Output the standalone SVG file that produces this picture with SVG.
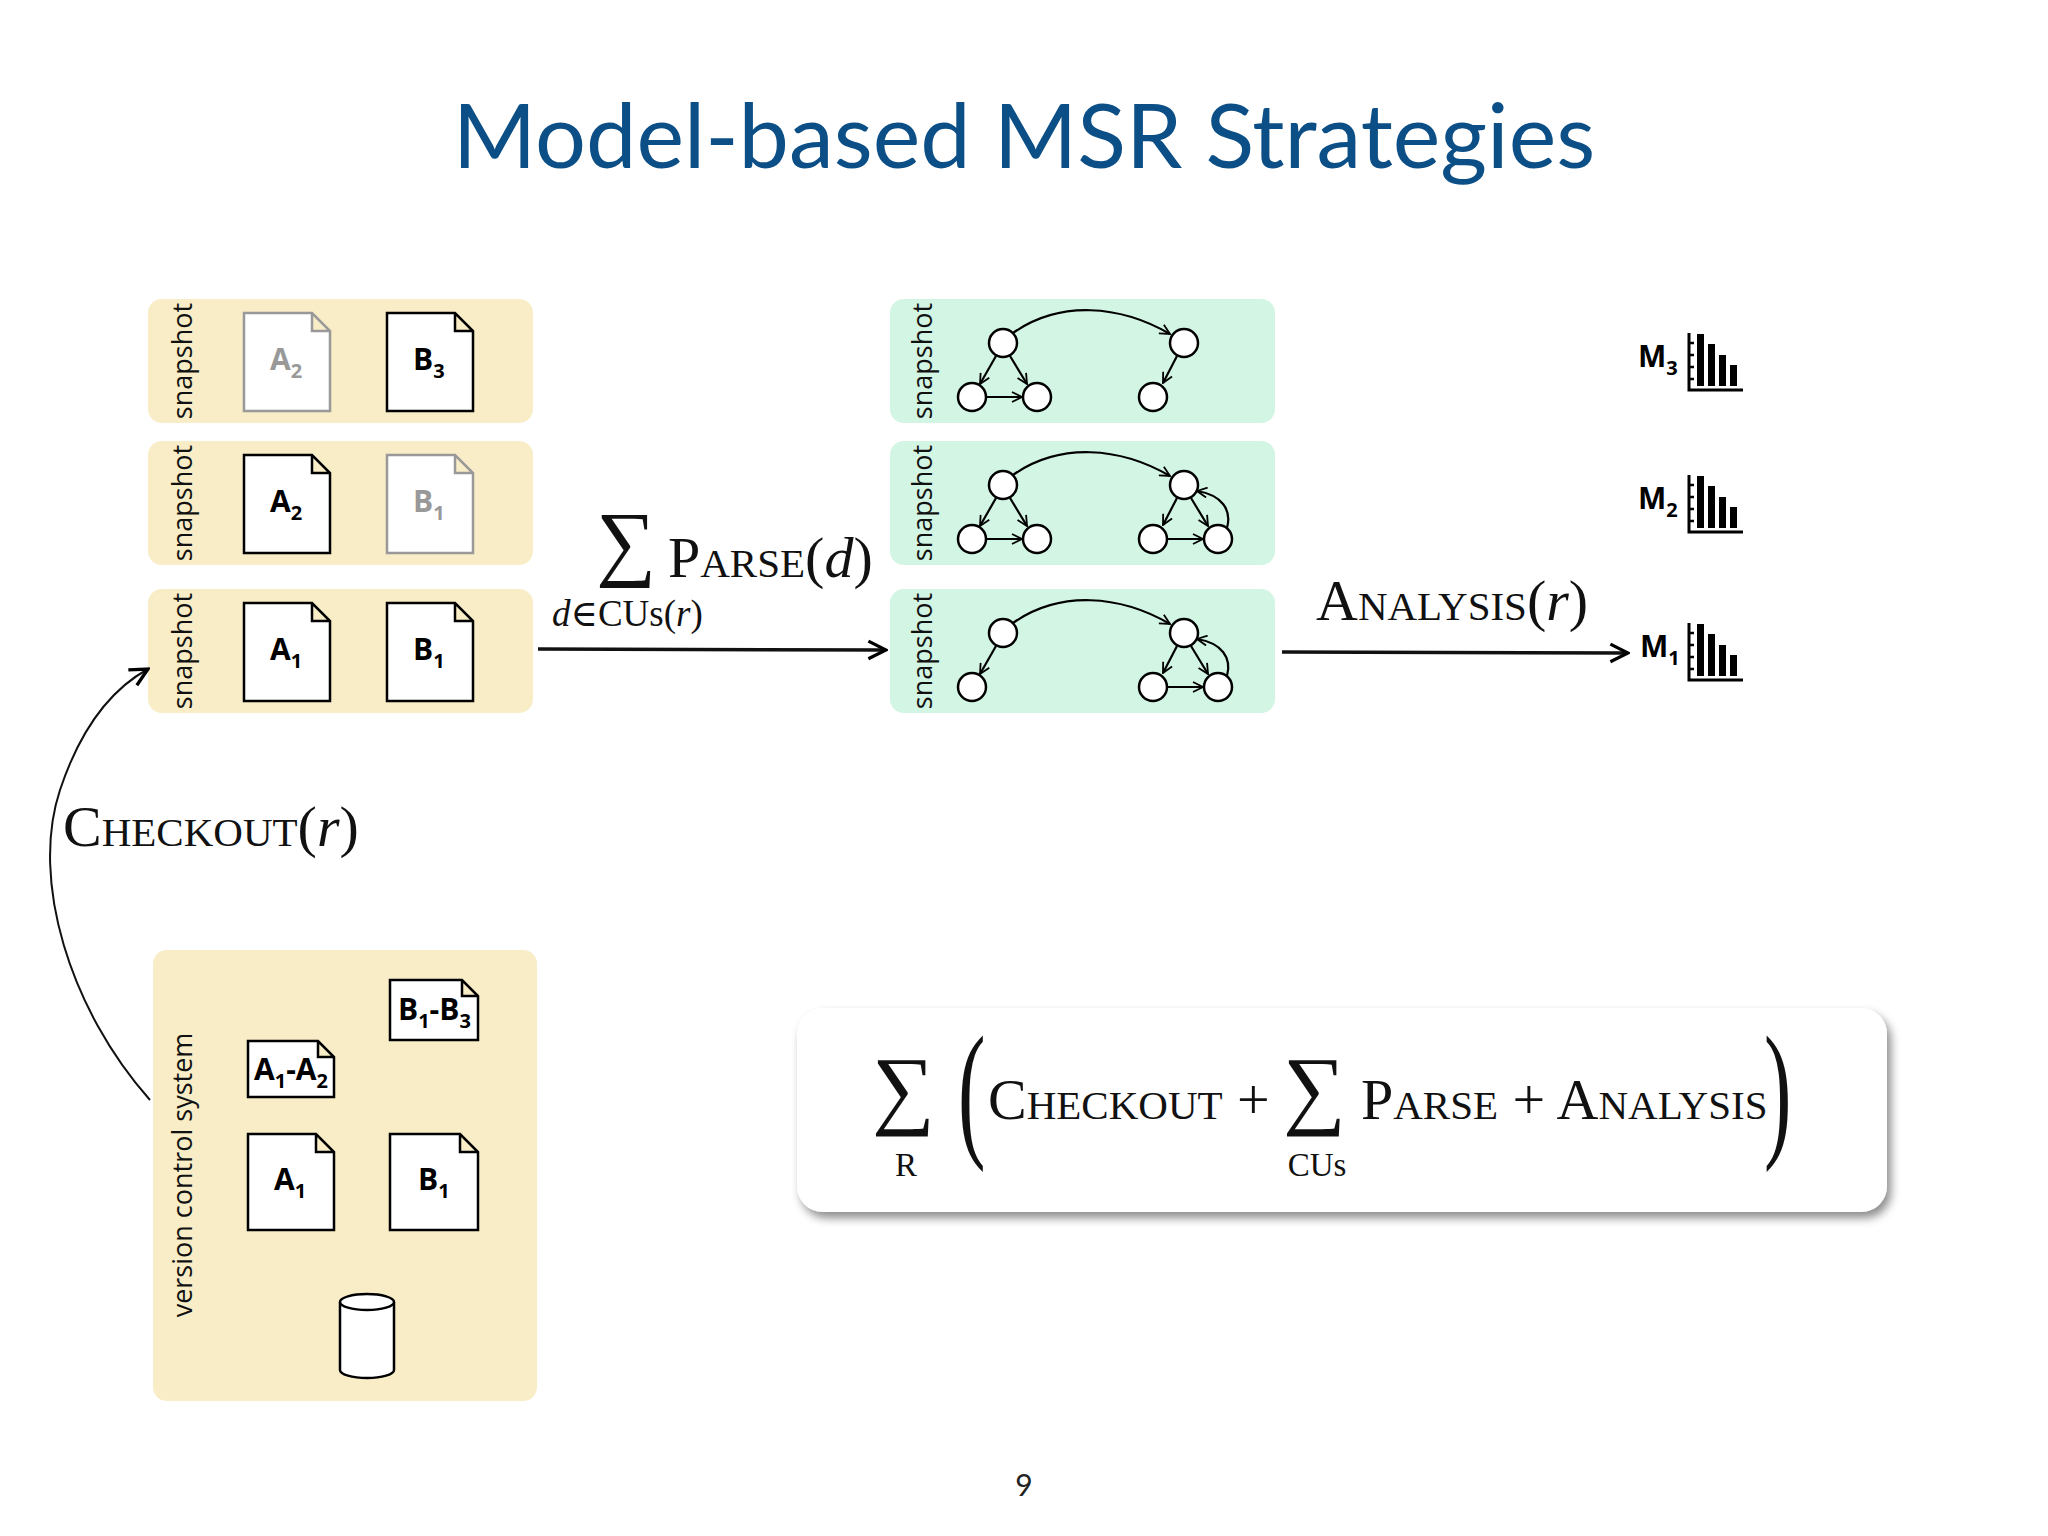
<svg xmlns="http://www.w3.org/2000/svg" width="2048" height="1536" viewBox="0 0 2048 1536">
<style>
.ybox{fill:#f8edc6}
.gbox{fill:#d3f5e4}
.lbl{font-family:"Open Sans","Liberation Sans",sans-serif;font-size:27px;fill:#111}
.doc{fill:#fff;stroke:#000;stroke-width:2.5}
.docg{fill:#fff;stroke:#999;stroke-width:2.5}
.dt{font-family:"Open Sans","Liberation Sans",sans-serif;font-weight:bold;font-size:30px;fill:#000}
.dtg{font-family:"Open Sans","Liberation Sans",sans-serif;font-weight:bold;font-size:30px;fill:#999}
.sub{font-size:20px}
.nd{fill:#fff;stroke:#000;stroke-width:2.5}
.ed{fill:none;stroke:#000;stroke-width:2.2;marker-end:url(#ah)}
.math{font-family:"Liberation Serif","DejaVu Serif",serif;fill:#111}
.sc{font-variant:small-caps}
.it{font-style:italic;font-variant:normal}
.bar{fill:#000}
</style>
<defs>
<marker id="ah" viewBox="0 0 12 12" refX="11" refY="6" markerWidth="12" markerHeight="12" markerUnits="userSpaceOnUse" orient="auto"><path d="M1,1 L11,6 L1,11" fill="none" stroke="#000" stroke-width="1.8"/></marker>
<marker id="bh" viewBox="0 0 20 20" refX="18" refY="10" markerWidth="22" markerHeight="22" markerUnits="userSpaceOnUse" orient="auto"><path d="M2,2 L18,10 L2,18" fill="none" stroke="#000" stroke-width="3"/></marker>
<filter id="sh" x="-5%" y="-10%" width="115%" height="130%"><feDropShadow dx="4" dy="6" stdDeviation="5" flood-color="#000" flood-opacity="0.45"/></filter>
</defs>
<rect width="2048" height="1536" fill="#fff"/>
<text x="1024" y="168" text-anchor="middle" font-family="Lato,'Noto Sans',sans-serif" font-size="90" fill="#0c4f86">Model-based MSR Strategies</text>

<!-- left snapshots -->
<g id="snap3">
<rect class="ybox" x="148" y="299" width="385" height="124" rx="14"/>
<text class="lbl" transform="translate(192,361) rotate(-90)" text-anchor="middle">snapshot</text>
<path class="docg" d="M244,313 H312 L330,331 V411 H244 Z M312,313 V331 H330"/>
<text class="dtg" x="270" y="370">A<tspan class="sub" dy="8">2</tspan></text>
<path class="doc" d="M387,313 H455 L473,331 V411 H387 Z M455,313 V331 H473"/>
<text class="dt" x="413" y="370">B<tspan class="sub" dy="8">3</tspan></text>
</g>
<g id="snap2">
<rect class="ybox" x="148" y="441" width="385" height="124" rx="14"/>
<text class="lbl" transform="translate(192,503) rotate(-90)" text-anchor="middle">snapshot</text>
<path class="doc" d="M244,455 H312 L330,473 V553 H244 Z M312,455 V473 H330"/>
<text class="dt" x="270" y="512">A<tspan class="sub" dy="8">2</tspan></text>
<path class="docg" d="M387,455 H455 L473,473 V553 H387 Z M455,455 V473 H473"/>
<text class="dtg" x="413" y="512">B<tspan class="sub" dy="8">1</tspan></text>
</g>
<g id="snap1">
<rect class="ybox" x="148" y="589" width="385" height="124" rx="14"/>
<text class="lbl" transform="translate(192,651) rotate(-90)" text-anchor="middle">snapshot</text>
<path class="doc" d="M244,603 H312 L330,621 V701 H244 Z M312,603 V621 H330"/>
<text class="dt" x="270" y="660">A<tspan class="sub" dy="8">1</tspan></text>
<path class="doc" d="M387,603 H455 L473,621 V701 H387 Z M455,603 V621 H473"/>
<text class="dt" x="413" y="660">B<tspan class="sub" dy="8">1</tspan></text>
</g>

<!-- VCS -->
<g id="vcs">
<rect class="ybox" x="153" y="950" width="384" height="451" rx="14"/>
<text class="lbl" transform="translate(192,1175) rotate(-90)" text-anchor="middle">version control system</text>
<path class="doc" d="M390,980 H462 L478,996 V1040 H390 Z M462,980 V996 H478"/>
<text class="dt" x="398" y="1020">B<tspan class="sub" dy="8">1</tspan><tspan dy="-8">-B</tspan><tspan class="sub" dy="8">3</tspan></text>
<path class="doc" d="M248,1041 H318 L334,1057 V1097 H248 Z M318,1041 V1057 H334"/>
<text class="dt" x="254" y="1080">A<tspan class="sub" dy="8">1</tspan><tspan dy="-8">-A</tspan><tspan class="sub" dy="8">2</tspan></text>
<path class="doc" d="M248,1134 H316 L334,1152 V1230 H248 Z M316,1134 V1152 H334"/>
<text class="dt" x="274" y="1190">A<tspan class="sub" dy="8">1</tspan></text>
<path class="doc" d="M390,1134 H460 L478,1152 V1230 H390 Z M460,1134 V1152 H478"/>
<text class="dt" x="418" y="1190">B<tspan class="sub" dy="8">1</tspan></text>
<path d="M340,1302 V1370 A27,8 0 0 0 394,1370 V1302" fill="#fff" stroke="#000" stroke-width="2.5"/>
<ellipse cx="367" cy="1302" rx="27" ry="8" fill="#fff" stroke="#000" stroke-width="2.5"/>
</g>

<!-- graph snapshots -->
<g id="gsnap3">
<rect class="gbox" x="890" y="299" width="385" height="124" rx="14"/>
<text class="lbl" transform="translate(932,361) rotate(-90)" text-anchor="middle">snapshot</text>
<path class="ed" d="M1013,333 C1060,300 1120,305 1170,334"/>
<path class="ed" d="M996,356 L980,384"/>
<path class="ed" d="M1010,356 L1027,384"/>
<path class="ed" d="M986,397 L1022,397"/>
<path class="ed" d="M1177,356 L1163,383"/>
<circle class="nd" cx="1003" cy="343" r="14"/><circle class="nd" cx="972" cy="397" r="14"/><circle class="nd" cx="1037" cy="397" r="14"/>
<circle class="nd" cx="1184" cy="343" r="14"/><circle class="nd" cx="1153" cy="397" r="14"/>
</g>
<g id="gsnap2">
<rect class="gbox" x="890" y="441" width="385" height="124" rx="14"/>
<text class="lbl" transform="translate(932,503) rotate(-90)" text-anchor="middle">snapshot</text>
<path class="ed" d="M1013,475 C1060,442 1120,447 1170,476"/>
<path class="ed" d="M996,498 L980,526"/>
<path class="ed" d="M1010,498 L1027,526"/>
<path class="ed" d="M986,539 L1022,539"/>
<path class="ed" d="M1177,498 L1163,525"/>
<path class="ed" d="M1191,498 L1208,526"/>
<path class="ed" d="M1167,539 L1203,539"/>
<path class="ed" d="M1227,528 C1232,510 1222,495 1197,491"/>
<circle class="nd" cx="1003" cy="485" r="14"/><circle class="nd" cx="972" cy="539" r="14"/><circle class="nd" cx="1037" cy="539" r="14"/>
<circle class="nd" cx="1184" cy="485" r="14"/><circle class="nd" cx="1153" cy="539" r="14"/><circle class="nd" cx="1218" cy="539" r="14"/>
</g>
<g id="gsnap1">
<rect class="gbox" x="890" y="589" width="385" height="124" rx="14"/>
<text class="lbl" transform="translate(932,651) rotate(-90)" text-anchor="middle">snapshot</text>
<path class="ed" d="M1013,623 C1060,590 1120,595 1170,624"/>
<path class="ed" d="M996,646 L980,674"/>
<path class="ed" d="M1177,646 L1163,673"/>
<path class="ed" d="M1191,646 L1208,674"/>
<path class="ed" d="M1167,687 L1203,687"/>
<path class="ed" d="M1227,676 C1232,658 1222,643 1197,639"/>
<circle class="nd" cx="1003" cy="633" r="14"/><circle class="nd" cx="972" cy="687" r="14"/>
<circle class="nd" cx="1184" cy="633" r="14"/><circle class="nd" cx="1153" cy="687" r="14"/><circle class="nd" cx="1218" cy="687" r="14"/>
</g>

<!-- metrics -->
<g id="m3">
<text class="dt" x="1638" y="367">M<tspan class="sub" dy="8">3</tspan></text>
<path d="M1689,333 V390 H1743" fill="none" stroke="#000" stroke-width="3"/>
<path d="M1689,343 h5 M1689,355 h5 M1689,367 h5 M1689,379 h5" stroke="#000" stroke-width="2.5"/>
<rect class="bar" x="1697" y="334" width="7" height="52"/><rect class="bar" x="1708" y="344" width="7" height="42"/><rect class="bar" x="1719" y="355" width="7" height="31"/><rect class="bar" x="1730" y="365" width="7" height="21"/>
</g>
<g id="m2">
<text class="dt" x="1638" y="509">M<tspan class="sub" dy="8">2</tspan></text>
<path d="M1689,475 V532 H1743" fill="none" stroke="#000" stroke-width="3"/>
<path d="M1689,485 h5 M1689,497 h5 M1689,509 h5 M1689,521 h5" stroke="#000" stroke-width="2.5"/>
<rect class="bar" x="1697" y="476" width="7" height="52"/><rect class="bar" x="1708" y="486" width="7" height="42"/><rect class="bar" x="1719" y="497" width="7" height="31"/><rect class="bar" x="1730" y="507" width="7" height="21"/>
</g>
<g id="m1">
<text class="dt" x="1640" y="657">M<tspan class="sub" dy="8">1</tspan></text>
<path d="M1689,623 V680 H1743" fill="none" stroke="#000" stroke-width="3"/>
<path d="M1689,633 h5 M1689,645 h5 M1689,657 h5 M1689,669 h5" stroke="#000" stroke-width="2.5"/>
<rect class="bar" x="1697" y="624" width="7" height="52"/><rect class="bar" x="1708" y="634" width="7" height="42"/><rect class="bar" x="1719" y="645" width="7" height="31"/><rect class="bar" x="1730" y="655" width="7" height="21"/>
</g>

<!-- connectors -->
<g id="connectors" fill="none" stroke="#111" stroke-width="3.5">
<path d="M538,649 L886,650" marker-end="url(#bh)"/>
<path d="M1282,652 L1628,653" marker-end="url(#bh)"/>
<path d="M150,1100 C70,1010 30,880 60,790 C80,730 110,690 148,669" stroke-width="2" marker-end="url(#bh)"/>
</g>

<!-- labels -->
<g id="labels" class="math">
<text x="596" y="570" font-size="84">∑</text>
<text x="668" y="577" font-size="58" class="sc">Parse(<tspan class="it">d</tspan>)</text>
<text x="552" y="626" font-size="37"><tspan class="it">d</tspan>∈CUs(<tspan class="it">r</tspan>)</text>
<text x="1316" y="620" font-size="58" class="sc">Analysis(<tspan class="it">r</tspan>)</text>
<text x="63" y="846" font-size="58" class="sc">Checkout(<tspan class="it">r</tspan>)</text>
</g>

<!-- formula -->
<g id="formula">
<rect x="797" y="1008" width="1090" height="204" rx="26" fill="#fff" filter="url(#sh)"/>
<g class="math">
<text x="872" y="1118" font-size="88">∑</text>
<text x="906" y="1176" font-size="33" text-anchor="middle">R</text>
<text x="958" y="1140" font-size="150" transform="translate(958,1140) scale(0.55,1) translate(-958,-1140)">(</text>
<text x="988" y="1119" font-size="58" class="sc">Checkout +</text>
<text x="1283" y="1118" font-size="88">∑</text>
<text x="1317" y="1176" font-size="33" text-anchor="middle">CUs</text>
<text x="1361" y="1119" font-size="58" class="sc">Parse + Analysis</text>
<text x="1764" y="1140" font-size="150" transform="translate(1764,1140) scale(0.55,1) translate(-1764,-1140)">)</text>
</g>
</g>

<text x="1024" y="1496" text-anchor="middle" font-family="Lato,'Noto Sans',sans-serif" font-size="30" fill="#222">9</text>
</svg>
